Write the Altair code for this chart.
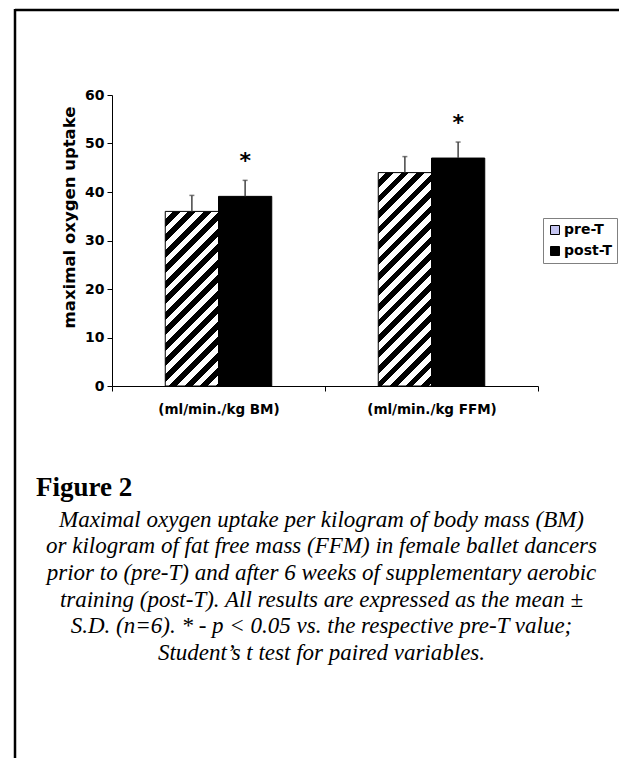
import altair as alt
import pandas as pd

# ---------------- data ----------------
CATEGORIES = ["(ml/min./kg BM)", "(ml/min./kg FFM)"]
SERIES = ["pre-T", "post-T"]
PRE_MEAN = [36.0, 44.0]
PRE_SD = [3.3, 3.3]
POST_MEAN = [39.1, 47.0]
POST_SD = [3.3, 3.3]
POST_SIGNIFICANT = [True, True]

Y_TICKS = [0, 10, 20, 30, 40, 50, 60]
Y_TITLE = "maximal oxygen uptake"
FIG_LABEL = "Figure 2"
CAPTION = [
    "Maximal oxygen uptake per kilogram of body mass (BM)",
    "or kilogram of fat free mass (FFM) in female ballet dancers",
    "prior to (pre-T) and after 6 weeks of supplementary aerobic",
    "training (post-T). All results are expressed as the mean \u00b1",
    "S.D. (n=6). * - p < 0.05 vs. the respective pre-T value;",
    "Student\u2019s t test for paired variables.",
]

rows = []
for i, c in enumerate(CATEGORIES):
    rows.append({"category": c, "series": "pre-T", "mean": PRE_MEAN[i],
                 "sd": PRE_SD[i], "top": PRE_MEAN[i] + PRE_SD[i], "star": False})
    rows.append({"category": c, "series": "post-T", "mean": POST_MEAN[i],
                 "sd": POST_SD[i], "top": POST_MEAN[i] + POST_SD[i],
                 "star": POST_SIGNIFICANT[i]})
df = pd.DataFrame(rows)

# ---------------- layout ----------------
W, H = 426, 291
YMAX = 60
PAD_OUTER = 1.0
BAND_PX = W / len(CATEGORIES)
BAR_PX = BAND_PX / (2 + 2 * PAD_OUTER)
PERIOD = 15.5  # hatch period along the horizontal, px

FONT_SANS = "DejaVu Sans"


def hatch(value):
    w = BAR_PX
    h = value / YMAX * H
    k = (w + h) / (w * w + h * h)
    step = PERIOD / (w + h)
    stops = [{"offset": 0, "color": "white"}]
    j = 0
    while j * step < 1:
        a = j * step + step * 0.5
        b = (j + 1) * step
        if a < 1:
            stops.append({"offset": a, "color": "white"})
            stops.append({"offset": a, "color": "black"})
            stops.append({"offset": min(b, 1), "color": "black"})
            if b < 1:
                stops.append({"offset": b, "color": "white"})
        j += 1
    return {"gradient": "linear", "x1": 0, "y1": 0, "x2": k * w, "y2": k * h,
            "stops": stops}


x_enc = alt.X("category:N", sort=CATEGORIES,
              scale=alt.Scale(domain=CATEGORIES, paddingInner=0, paddingOuter=0),
              axis=alt.Axis(title=None, tickBand="extent", tickSize=5,
                            labelFontSize=13.5, labelPadding=11, labelAngle=0,
                            labelFont=FONT_SANS, labelFontWeight="bold"))
xo_enc = alt.XOffset("series:N",
                     scale=alt.Scale(domain=SERIES, paddingInner=0,
                                     paddingOuter=PAD_OUTER))
y_scale = alt.Scale(domain=[0, YMAX], nice=False)
y_enc = alt.Y("mean:Q", scale=y_scale,
              axis=alt.Axis(values=Y_TICKS, tickSize=5, labelFontSize=14,
                            labelPadding=3, labelFont=FONT_SANS,
                            labelFontWeight="bold", title=Y_TITLE,
                            titleFont=FONT_SANS, titleFontSize=16.5,
                            titleFontWeight="bold", titleX=-43, titleY=122,
                            titleAngle=270, titleAlign="center",
                            titleBaseline="middle"))

base = alt.Chart(df)

pre_layers = []
for i, c in enumerate(CATEGORIES):
    pre_layers.append(
        base.transform_filter(
            (alt.datum.series == "pre-T") & (alt.datum.category == c)
        ).mark_bar(fill=hatch(PRE_MEAN[i]), stroke="black", strokeWidth=1)
        .encode(x=x_enc, xOffset=xo_enc, y=y_enc)
    )

post_bars = base.transform_filter(alt.datum.series == "post-T").mark_bar(
    stroke="black", strokeWidth=1
).encode(
    x=x_enc, xOffset=xo_enc, y=y_enc,
    fill=alt.Fill("series:N",
                  scale=alt.Scale(domain=SERIES, range=["#c4c4f0", "#000000"]),
                  legend=alt.Legend(title=None, orient="none", legendX=431,
                                    legendY=123, direction="vertical",
                                    symbolType="square", symbolSize=81,
                                    symbolStrokeColor="black",
                                    symbolStrokeWidth=1,
                                    labelFont=FONT_SANS, labelFontWeight="bold",
                                    labelFontSize=14, labelColor="black",
                                    labelOffset=2, rowPadding=7, padding=5,
                                    strokeColor="#808080", fillColor="white",
                                    cornerRadius=0)),
)

err_stem = base.mark_rule(color="#444444", strokeWidth=1.5).encode(
    x=x_enc, xOffset=xo_enc, y=alt.Y("mean:Q", scale=y_scale), y2="top:Q"
)
err_cap = base.mark_tick(color="#444444", thickness=1.5, size=5,
                         orient="horizontal").encode(
    x=x_enc, xOffset=xo_enc, y=alt.Y("top:Q", scale=y_scale)
)
stars = base.transform_filter(alt.datum.star == True).mark_text(
    text="*", font=FONT_SANS, fontWeight="bold", fontSize=22, dy=-12,
    baseline="alphabetic", align="center", color="black"
).encode(x=x_enc, xOffset=xo_enc, y=alt.Y("top:Q", scale=y_scale))

one = alt.Data(values=[{"k": 1}])
border_top = alt.Chart(one).mark_rule(color="black", strokeWidth=2.5).encode(
    x=alt.value(-97), x2=alt.value(520), y=alt.value(-85)
)
border_left = alt.Chart(one).mark_rule(color="black", strokeWidth=2.5).encode(
    x=alt.value(-97), y=alt.value(-86), y2=alt.value(700)
)

fig_label = alt.Chart(one).mark_text(
    text=FIG_LABEL, font="Liberation Serif", fontWeight="bold", fontSize=27,
    align="left", baseline="alphabetic", color="black"
).encode(x=alt.value(-76), y=alt.value(401))

caption = alt.Chart(one).mark_text(
    text=CAPTION, font="Liberation Serif", fontStyle="italic", fontSize=23,
    lineHeight=26.7, align="center", baseline="alphabetic", color="black"
).encode(x=alt.value(209.5), y=alt.value(431.7))

chart = alt.layer(
    *pre_layers, post_bars, err_stem, err_cap, stars,
    border_top, border_left, fig_label, caption
).properties(
    width=W, height=H,
    autosize=alt.AutoSizeParams(type="none"),
    padding={"left": 104, "top": 87, "right": 81, "bottom": 372},
    background="white",
).configure_view(stroke=None).configure_axis(
    grid=False, domainColor="black", tickColor="black", labelColor="black",
    titleColor="black", domainWidth=1, tickWidth=1
)

chart.save("out.html", embed_options={"renderer": "svg", "actions": False})
